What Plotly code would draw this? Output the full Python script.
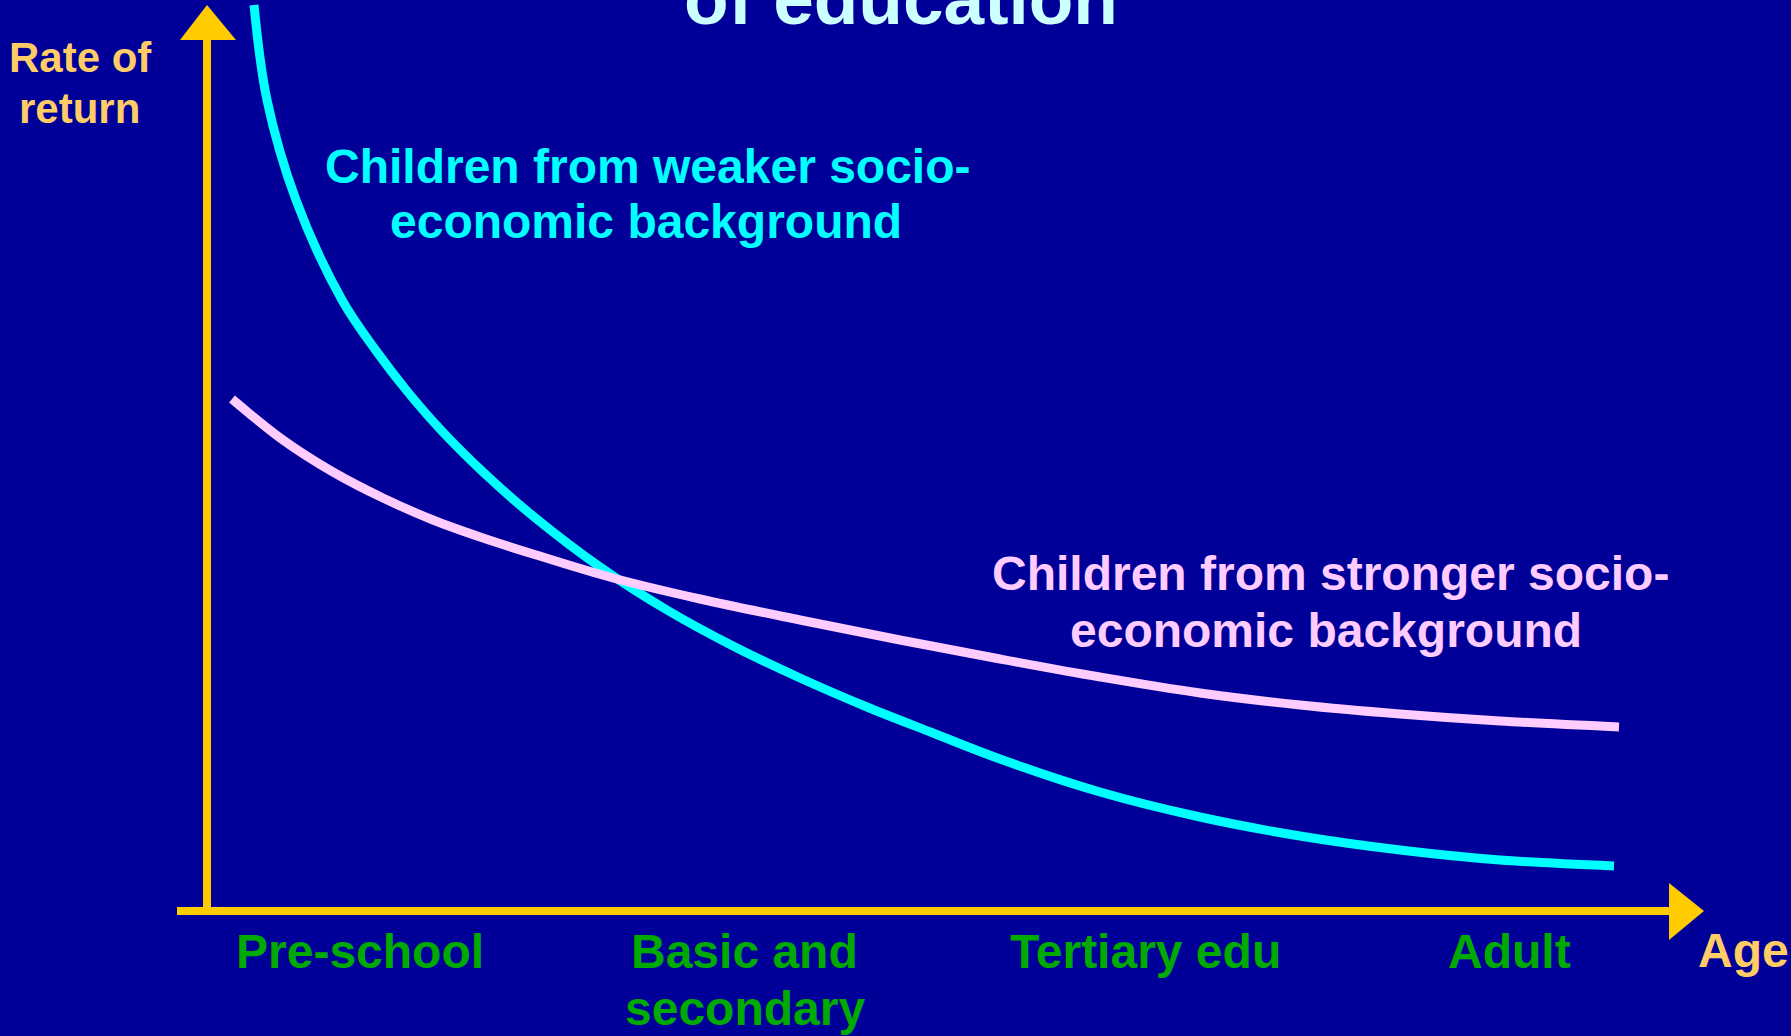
import plotly.graph_objects as go

# Curve data (x: position along age axis, y: rate of return; arbitrary units)
weaker_x = [47, 60, 89, 135, 170, 200, 233, 276, 326, 393, 460, 526, 593, 660, 726, 793, 893, 993, 1093, 1193, 1293, 1407]
weaker_y = [906, 811, 711, 611, 559, 520, 482, 439, 395, 344, 301, 265, 233, 204, 178, 152, 119, 94, 75, 61, 51, 45]

stronger_x = [25, 76, 126, 176, 226, 276, 326, 406, 493, 593, 693, 793, 893, 993, 1093, 1193, 1293, 1412]
stronger_y = [512, 471, 439, 413, 391, 373, 357, 333, 312, 291, 271, 252, 234, 218, 206, 197, 190, 184]

stage_labels = ["Pre-school", "Basic and", "Tertiary edu", "Adult"]
stage_labels2 = ["", "secondary", "", ""]
stage_pos = [153, 537, 938, 1302]

BG = "#000099"
CYAN = "#00FFFF"
PINK = "#FFCCFF"
YELLOW = "#FFCC00"
GREEN = "#00AA00"
ORANGE = "#FFCC66"
TITLE = "#CCFFFF"
FONT = "Arial, Liberation Sans, sans-serif"

fig = go.Figure()
fig.add_trace(go.Scatter(x=weaker_x, y=weaker_y, mode="lines",
                         line=dict(color=CYAN, width=9, shape="spline", smoothing=1.0),
                         hoverinfo="skip", showlegend=False))
fig.add_trace(go.Scatter(x=stronger_x, y=stronger_y, mode="lines",
                         line=dict(color=PINK, width=9, shape="spline", smoothing=1.0),
                         hoverinfo="skip", showlegend=False))

shapes = [
    dict(type="line", x0=0, x1=0, y0=-4, y1=872, line=dict(color=YELLOW, width=8)),
    dict(type="path", path="M -27,871 L 29,871 L 0,906 Z", fillcolor=YELLOW, line=dict(width=0)),
    dict(type="line", x0=-30, x1=1463, y0=0, y1=0, line=dict(color=YELLOW, width=8)),
    dict(type="path", path="M 1462,28 L 1462,-29 L 1497,0 Z", fillcolor=YELLOW, line=dict(width=0)),
]

def px2x(px):
    return px - 207

def py2y(py):
    return 911 - py

def label(text, cx, baseline, size, color):
    return dict(text=f"<b>{text}</b>", x=px2x(cx), y=py2y(baseline - 0.3465 * size),
                xref="x", yref="y", showarrow=False, xanchor="center", yanchor="middle",
                font=dict(family=FONT, size=size, color=color))

annotations = [
    dict(text="<b>of education</b>", x=901 / 1791, y=(1036 - (24 - 0.3465 * 73)) / 1036,
         xref="paper", yref="paper", showarrow=False, xanchor="center", yanchor="middle",
         font=dict(family=FONT, size=73, color=TITLE)),
    label("Rate of", 80, 72, 42, ORANGE),
    label("return", 79, 123, 42, ORANGE),
    label("Children from weaker socio-", 648, 183, 48, CYAN),
    label("economic background", 646, 238, 48, CYAN),
    label("Children from stronger socio-", 1330, 590, 48, PINK),
    label("economic background", 1326, 647, 48, PINK),
    label("Age", 1743, 967, 48, ORANGE),
]
for t, t2, p in zip(stage_labels, stage_labels2, stage_pos):
    annotations.append(label(t, p + 207, 968, 48, GREEN))
    if t2:
        annotations.append(label(t2, p + 207 + 1, 1025, 48, GREEN))

fig.update_layout(
    width=1791, height=1036,
    margin=dict(l=0, r=0, t=0, b=0),
    paper_bgcolor=BG, plot_bgcolor=BG,
    xaxis=dict(range=[-207, 1584], visible=False, fixedrange=True),
    yaxis=dict(range=[-125, 911], visible=False, fixedrange=True),
    shapes=shapes, annotations=annotations,
    showlegend=False,
)

fig.write_html("out.html", config={"displayModeBar": False},
               post_script="document.body.style.margin='0';document.body.style.overflow='hidden';document.body.style.background='#000099';")
